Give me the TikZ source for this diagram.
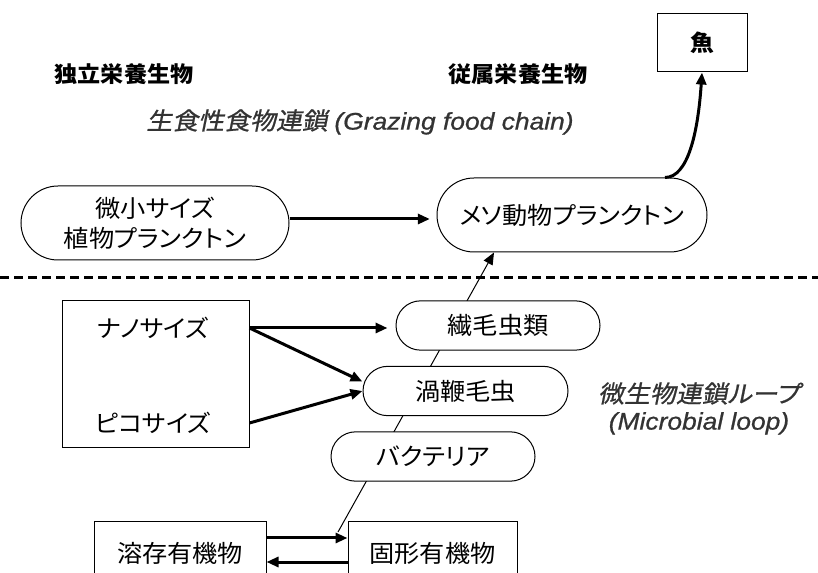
\documentclass[tikz,border=0pt]{standalone}
\usepackage{fontspec}
\setmainfont{Liberation Sans}
\newfontfamily\jp[RawFeature=+palt,FakeStretch=1.05]{Noto Sans CJK JP}
\newfontfamily\jpit[FakeSlant=0.2,FakeStretch=1.08,FakeBold=0.8,RawFeature=+palt]{Noto Sans CJK JP}
\newfontfamily\latit[FakeStretch=1.1,FakeBold=0.8]{Liberation Sans Italic}
\usetikzlibrary{arrows.meta,backgrounds}
\definecolor{labgray}{RGB}{51,51,51}
\begin{document}
\begin{tikzpicture}[x=0.75pt,y=-0.75pt,
  txt/.style={font=\jp\fontsize{18pt}{21pt}\selectfont, inner sep=0pt},
  hdr/.style={font=\jp\bfseries\fontsize{16.5pt}{19pt}\selectfont, inner sep=0pt},
  itlab/.style={font=\fontsize{18pt}{20.25pt}\selectfont, text=labgray, inner sep=0pt, align=center},
  sqbox/.style={draw, fill=white, line width=0.75pt, inner sep=0pt, font=\jp\fontsize{18pt}{21pt}\selectfont},
  bigstad/.style={draw, fill=white, line width=0.75pt, inner sep=0pt, minimum height=55.5pt, rounded corners=27.75pt, align=center, font=\jp\fontsize{18pt}{22.5pt}\selectfont},
  smallstad/.style={draw, fill=white, line width=0.75pt, inner sep=0pt, minimum height=37pt, rounded corners=18.5pt, font=\jp\fontsize{18pt}{21pt}\selectfont},
  arr/.style={line width=2.25pt, -{Triangle[length=9pt,width=7.5pt]}},
  thinarr/.style={line width=0.75pt, -{Triangle[length=9pt,width=7.5pt]}},
  divider/.style={line width=2.25pt, dash pattern=on 6.75pt off 3.75pt}
]
\useasboundingbox (0,0) rectangle (818,573);
\clip (0,0) rectangle (818,573);

% headers
\node[hdr] (auto) at (124,74) {独立栄養生物};
\node[hdr] (hetero) at (518,74) {従属栄養生物};
\node[sqbox, minimum width=67.5pt, minimum height=43.5pt, font=\jp\bfseries\fontsize{17pt}{19pt}\selectfont] (fish) at (702,43) {魚};

% grazing label
\node[itlab] (graze) at (360,122) {{\jpit 生食性食物連鎖} {\latit (Grazing food chain)}};

% stadium nodes
\node[bigstad, minimum width=201pt] (phyto) at (155,223) {微小サイズ\\植物プランクトン};
\node[bigstad, minimum width=202.5pt] (meso) at (572,215) {メソ動物プランクトン};

% divider
\draw[divider] (0,278) -- (818,278);

% nano / pico box
\node[sqbox, minimum width=140.25pt, minimum height=110.25pt] (np) at (155.5,374.5) {};
\node[txt] (nano) at (153,328) {ナノサイズ};
\node[txt] (pico) at (153,423) {ピコサイズ};

\node[smallstad, minimum width=153pt] (cil) at (498,325.5) {繊毛虫類};
\node[smallstad, minimum width=153.75pt] (flag) at (465.5,391) {渦鞭毛虫};
\node[smallstad, minimum width=153pt] (bact) at (433,456.5) {バクテリア};

% microbial loop label
\node[itlab] (loop) at (699,408.5) {{\jpit 微生物連鎖ループ}\\ {\latit (Microbial loop)}};

% organic matter boxes
\node[sqbox, minimum width=129pt, minimum height=46.5pt] (dis) at (180,553) {溶存有機物};
\node[sqbox, minimum width=126.75pt, minimum height=46.5pt] (sol) at (432.5,553) {固形有機物};

\coordinate (bstart) at (338,532);

% connectors
\draw[arr, shorten >=5pt] (phyto.east |- 0,219) -- (meso.west |- 0,219);
\draw[arr] ([xshift=69.75pt]meso.north) .. controls +(23,0) and +(-4,60) .. (fish.south);
\draw[arr, shorten >=6pt] (np.east |- nano) -- (cil.west |- nano);
\draw[arr] (np.east |- nano) -- ([yshift=7pt]flag.west);
\draw[arr] (np.east |- pico) -- (flag.west);
\draw[arr] ([yshift=11.25pt]dis.east) -- ([yshift=11.25pt]sol.west);
\draw[arr] ([yshift=-6.75pt]sol.west) -- ([yshift=-6.75pt]dis.east);
\begin{scope}[on background layer]
\draw[thinarr] (bstart) -- ([xshift=-58.5pt]meso.south);
\end{scope}
\end{tikzpicture}
\end{document}
